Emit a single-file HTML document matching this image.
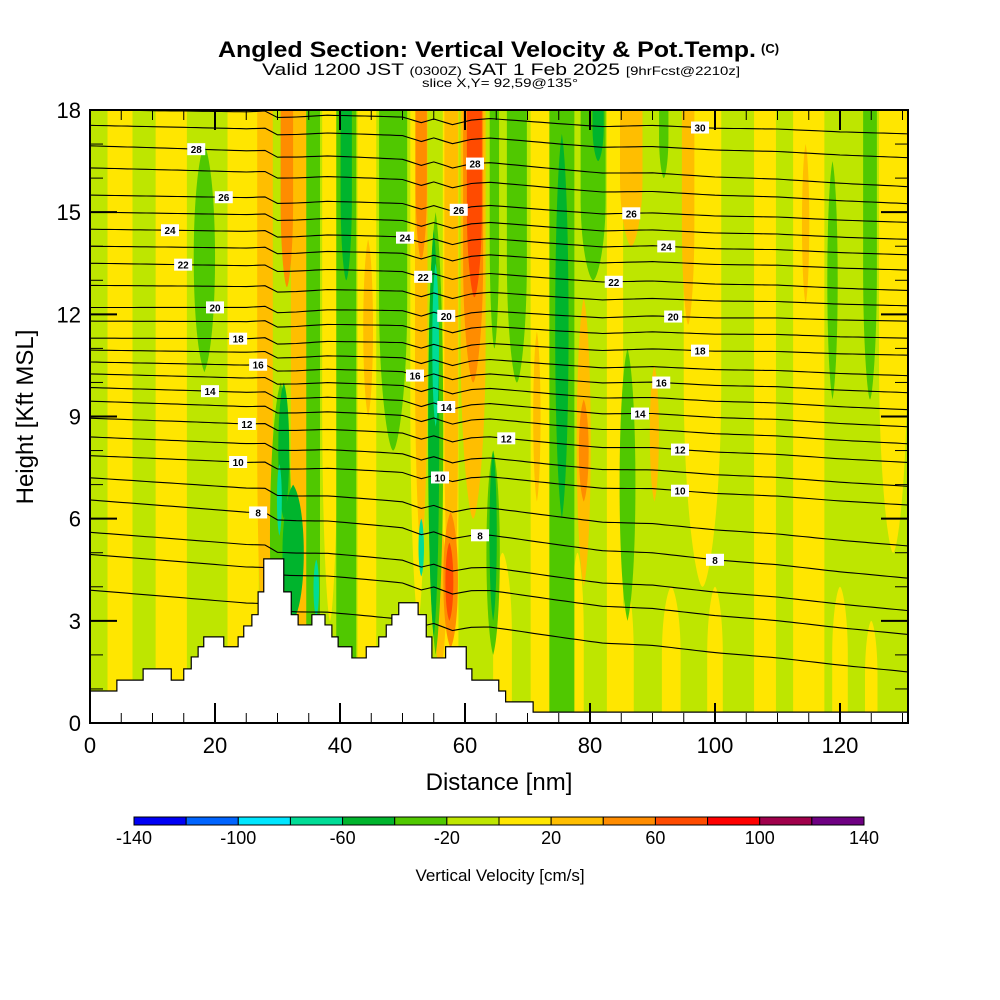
<!DOCTYPE html>
<html><head><meta charset="utf-8"><style>
html,body{margin:0;padding:0;background:#fff;}
svg{display:block;font-family:"Liberation Sans",sans-serif;}
</style></head><body>
<svg id="chart" width="1000" height="1000" viewBox="0 0 1000 1000" xmlns="http://www.w3.org/2000/svg">
<g>
<text x="218" y="57" font-size="22" font-weight="bold" textLength="538" lengthAdjust="spacingAndGlyphs">Angled Section: Vertical Velocity &amp; Pot.Temp.</text>
<text x="761" y="53" font-size="13" font-weight="bold">(C)</text>
<text x="262" y="75" font-size="17" textLength="478" lengthAdjust="spacingAndGlyphs">Valid 1200 JST <tspan font-size="12">(0300Z)</tspan> SAT 1 Feb 2025 <tspan font-size="12">[9hrFcst@2210z]</tspan></text>
<text x="422" y="87" font-size="12" textLength="156" lengthAdjust="spacingAndGlyphs">slice X,Y= 92,59@135°</text>
</g>
<defs><clipPath id="plotclip"><rect x="90" y="110" width="818" height="613"/></clipPath></defs>
<g id="plot" clip-path="url(#plotclip)">
<rect x="90" y="110" width="818" height="613" fill="#bee600"/>
<g id="bands"></g>
<g id="lines"></g>
<g id="terrain"></g>
<g id="clabels"></g>
</g>
<rect x="90" y="110" width="818" height="613" fill="none" stroke="#000" stroke-width="2"/>
<g id="axes"></g>
<text x="499" y="790" text-anchor="middle" font-size="24">Distance [nm]</text>
<text x="0" y="0" transform="translate(33,417) rotate(-90)" text-anchor="middle" font-size="24">Height [Kft MSL]</text>
<g id="cbar"></g>
<text x="500" y="881" text-anchor="middle" font-size="17">Vertical Velocity [cm/s]</text>
</svg>
<script>
const NS="http://www.w3.org/2000/svg";
// ---- data ----
const cbEdges=[-140,-120,-100,-80,-60,-40,-20,0,20,40,60,80,100,120,140];
const cbColors=["#0000f5","#0064ff","#00e6ff","#00dc96","#00b42d","#50c800","#bee600","#ffe600","#ffbe00","#ff8c00","#ff4b00","#ff0000","#a0004b","#6e0082"];
const cbLabels=[-140,-100,-60,-20,20,60,100,140];
const xTicks=[0,20,40,60,80,100,120];
const yTicks=[0,3,6,9,12,15,18];
// velocity bands: centre (nm), width (nm), top (kft), bottom (kft), value (cm/s)
const bandX=[4.8,13,24.5,38.4,44.3,52.5,57.7,72,84,98,108,115,128.5,66,78,86,93,100,120,125,
 28,33.4,44.5,53,57.8,61.3,71.5,79,86.6,90.3,95.7,114.5,56,
 31.5,53,57.7,61.3,79, 61.5,57.5,
 18.3,30.5,35.7,41,48.5,55.3,64.5,64.7,68.3,75.5,80.5,86,91.8,118.8,124.8,
 32.5,31,41,55,75.5,81.3,64.5,
 55.3,53,36.2,30.3];
const bandW=[4,5,5,2.5,3,2.5,2.5,3,2.6,6,3.5,5,4.5,3,2,2,3,2.5,2.5,2,
 2.5,2.5,1.6,2,2.2,4,1.2,2.3,3.6,1.5,2,1.2,2,
 2,1.8,2.4,3.2,1.6, 2.4,1.3,
 3.5,3.5,2.2,3.2,4.5,2.5,2.2,1.5,3.2,4,4,2.6,1.5,1.7,2.2,
 3.5,1.8,1.8,1.8,2.2,1.8,1.2,
 1.1,0.9,0.9,0.8];
const bandTop=[19,19,19,19,19,19,19,19,19,19,19,19,19,5,5,4,4,4,4,3,
 19,19,14.2,19,19,19,11.5,12.5,19,10.5,19,17,6,
 19,19,6.2,19,9.5, 19,5.3,
 17,10,19,19,19,15,8,19,19,18.5,19,11,19,16.5,19,
 7,10,19,14.5,17.3,19,8,
 13.5,6,4.8,7.6];
const bandBot=[-1,-1,-1,3,-1,3,-1,-1,-1,4,-1,-1,5,-1,-1,-1,-1,-1,-1,-1,
 1.5,-1,9,5,2.5,6,6.5,4,14,6.5,11.7,12.3,1.5,
 12.8,13.6,2.2,10,6.5, 12.5,3,
 10.3,1,-1,-1,8,2,2,11,10,-0.5,13,3,16,9.5,9.5,
 3,6,13,2.5,6,16.5,3,
 8.7,4.3,3.1,5.5];
const bandV=[10,10,10,10,10,10,10,10,10,10,10,10,10,10,10,10,10,10,10,10,
 30,30,30,30,30,30,30,30,30,30,30,30,30,
 50,50,50,50,50, 70,70,
 -30,-30,-30,-30,-30,-30,-30,-30,-30,-30,-30,-30,-30,-30,-30,
 -50,-50,-50,-50,-50,-50,-50,
 -70,-70,-70,-70];
// potential temperature contours
const thetaLevels=[5,6,7,8,9,10,11,12,13,14,15,16,17,18,19,20,21,22,23,24,25,26,27,28,29,30];
const leftY=[3.9,4.95,5.6,6.55,7.2,7.85,8.4,8.95,9.45,9.85,10.25,10.6,10.95,11.3,11.8,12.2,12.85,13.5,14.0,14.5,15.0,15.5,16.3,16.95,17.55,18.0];
const rightY=[1.5,2.6,3.3,4.25,5.2,6.4,6.95,7.65,8.2,8.7,9.2,9.7,10.2,10.8,11.3,11.8,12.25,12.7,13.3,13.75,14.2,14.7,15.25,15.75,16.6,17.3];
const waveX=[0,15,25,28,30,33,38,45,50,53,55,58,61,64,68,75,82,90,100,110,120,131];
const waveDy=[0,0.05,0.08,0.12,-0.06,-0.03,0.05,0.06,0.06,-0.09,0.03,-0.12,0.03,0.09,0.06,0,-0.05,0.03,0,0.03,0,0];
const labelLevel=[28,26,24,22,20,18,16,14,12,10,8,10,14,16,20,22,24,26,28,12,8,8,10,12,14,16,18,20,22,24,26,30];
const labelNm=[17,21.4,12.8,14.9,20,23.7,26.9,19.2,25.1,23.7,26.9,56,57,52,57,53.3,50.4,59,61.6,66.6,62.4,100,94.4,94.4,88,91.4,97.6,93.3,83.8,92.2,86.6,97.6];
// terrain steps: start distance (nm), height (kft)
const terrX=[0,4.3,8.5,13,15,16.2,17.3,18.2,21.4,23.7,24.6,25.9,26.9,27.8,31,32.2,33.3,35.5,37.6,38.7,39.7,41.9,44.2,46.2,47.4,48.3,49.4,52.5,53.8,54.7,56.9,60.2,61.1,65.4,66.5,70.9];
const terrH=[0.94,1.26,1.59,1.26,1.59,1.94,2.24,2.53,2.24,2.53,2.85,3.18,3.85,4.82,3.85,3.18,2.88,3.18,2.88,2.53,2.24,1.91,2.24,2.53,2.88,3.18,3.53,3.18,2.53,1.91,2.24,1.59,1.26,0.94,0.62,0.32];
// ---- scales ----
const X0=90,X1=908,XMAX=(908-90)/6.25,Y0=723,Y1=110;
function sx(nm){return X0+nm*6.25;}
function sy(k){return Y0-k*(Y0-Y1)/18;}
function color(v){for(let i=0;i<cbColors.length;i++){if(v<cbEdges[i+1])return cbColors[i];}return cbColors[cbColors.length-1];}
function mk(tag,attrs,parent){const e=document.createElementNS(NS,tag);for(const k in attrs)e.setAttribute(k,attrs[k]);parent.appendChild(e);return e;}
// bands
const gB=document.getElementById('bands');
for(let i=0;i<bandX.length;i++){
  const cx=sx(bandX[i]),hw=bandW[i]*6.25/2,yt=sy(bandTop[i]),yb=sy(bandBot[i]),h=yb-yt;
  let d;
  if(bandTop[i]>=18.5&&bandBot[i]<=0){d=`M${cx-hw},${yt}L${cx+hw},${yt}L${cx+hw},${yb}L${cx-hw},${yb}Z`;}
  else if(bandTop[i]>=18.5){d=`M${cx-hw},${yt}L${cx+hw},${yt}L${cx+hw},${yt+h*0.6}C${cx+hw},${yb-h*0.15} ${cx+hw*0.3},${yb} ${cx},${yb}C${cx-hw*0.3},${yb} ${cx-hw},${yb-h*0.15} ${cx-hw},${yt+h*0.6}Z`;}
  else if(bandBot[i]<=0){d=`M${cx-hw},${yb}L${cx+hw},${yb}L${cx+hw},${yt+h*0.4}C${cx+hw},${yt+h*0.15} ${cx+hw*0.3},${yt} ${cx},${yt}C${cx-hw*0.3},${yt} ${cx-hw},${yt+h*0.15} ${cx-hw},${yt+h*0.4}Z`;}
  else{d=`M${cx},${yt}C${cx+hw*1.3},${yt+h*0.15} ${cx+hw*1.3},${yb-h*0.15} ${cx},${yb}C${cx-hw*1.3},${yb-h*0.15} ${cx-hw*1.3},${yt+h*0.15} ${cx},${yt}Z`;}
  const p=mk('path',{d:d,fill:color(bandV[i])},gB);
  
  
}
// contours
function wave(nm){for(let i=0;i<waveX.length-1;i++){if(nm<=waveX[i+1]){const t=(nm-waveX[i])/(waveX[i+1]-waveX[i]);return waveDy[i]+t*(waveDy[i+1]-waveDy[i]);}}return 0;}
function lineK(li,nm){return leftY[li]+(rightY[li]-leftY[li])*nm/XMAX+wave(nm);}
const gL=document.getElementById('lines');
for(let li=0;li<thetaLevels.length;li++){
  let pts=[];
  for(let nm=0;nm<=XMAX+1;nm+=1){pts.push(sx(nm).toFixed(1)+','+sy(lineK(li,nm)).toFixed(1));}
  const pl=mk('polyline',{points:pts.join(' '),fill:'none',stroke:'#000','stroke-width':1.1},gL);
  
  
}
// terrain
const gT=document.getElementById('terrain');
let td=`M${sx(0)},${sy(0)}`;
for(let i=0;i<terrX.length;i++){const xe=i<terrX.length-1?terrX[i+1]:XMAX+1;td+=`L${sx(terrX[i])},${sy(terrH[i])}L${sx(xe)},${sy(terrH[i])}`;}
td+=`L${sx(XMAX+1)},${sy(-0.5)}L${sx(0)},${sy(-0.5)}Z`;
const tp=mk('path',{d:td,fill:'#fff',stroke:'#000','stroke-width':1.2},gT);


// contour labels
const gC=document.getElementById('clabels');
for(let i=0;i<labelLevel.length;i++){
  const li=thetaLevels.indexOf(labelLevel[i]);if(li<0)continue;
  const x=sx(labelNm[i]),y=sy(lineK(li,labelNm[i]));
  const g=mk('g',{},gC);
  
  
  mk('rect',{x:x-9,y:y-6,width:18,height:12,fill:'#fff'},g);
  const t=mk('text',{x:x,y:y+4,'text-anchor':'middle','font-size':10,'font-weight':'bold'},g);
  t.textContent=labelLevel[i];
}
// axes
const gA=document.getElementById('axes');
for(let nm=0;nm<=130;nm+=5){
  const major=nm%20===0,len=major?20:10,x=sx(nm);
  mk('line',{x1:x,y1:Y0,x2:x,y2:Y0-len,stroke:'#000','stroke-width':major?2:1},gA);
  mk('line',{x1:x,y1:Y1,x2:x,y2:Y1+len,stroke:'#000','stroke-width':major?2:1},gA);
}
for(let k=0;k<=18;k++){
  const major=k%3===0,len=major?27:13,y=sy(k);
  mk('line',{x1:X0,y1:y,x2:X0+len,y2:y,stroke:'#000','stroke-width':major?2:1},gA);
  mk('line',{x1:X1,y1:y,x2:X1-len,y2:y,stroke:'#000','stroke-width':major?2:1},gA);
}
for(const v of xTicks){const t=mk('text',{x:sx(v),y:753,'text-anchor':'middle','font-size':22},gA);t.textContent=v;
  
  }
for(const v of yTicks){const t=mk('text',{x:81,y:sy(v)+8,'text-anchor':'end','font-size':22},gA);t.textContent=v;
  
  }
// colorbar
const gCB=document.getElementById('cbar');
const cb0=134,cb1=864;
function cbx(v){return cb0+(v-cbEdges[0])/(cbEdges[cbEdges.length-1]-cbEdges[0])*(cb1-cb0);}
for(let i=0;i<cbColors.length;i++){
  const r=mk('rect',{x:cbx(cbEdges[i]),y:817,width:cbx(cbEdges[i+1])-cbx(cbEdges[i]),height:8,fill:cbColors[i],stroke:'#000','stroke-width':1},gCB);
  
  
}
for(const v of cbLabels){const t=mk('text',{x:cbx(v),y:844,'text-anchor':'middle','font-size':18},gCB);t.textContent=v;
  
  }
</script>
</body></html>
